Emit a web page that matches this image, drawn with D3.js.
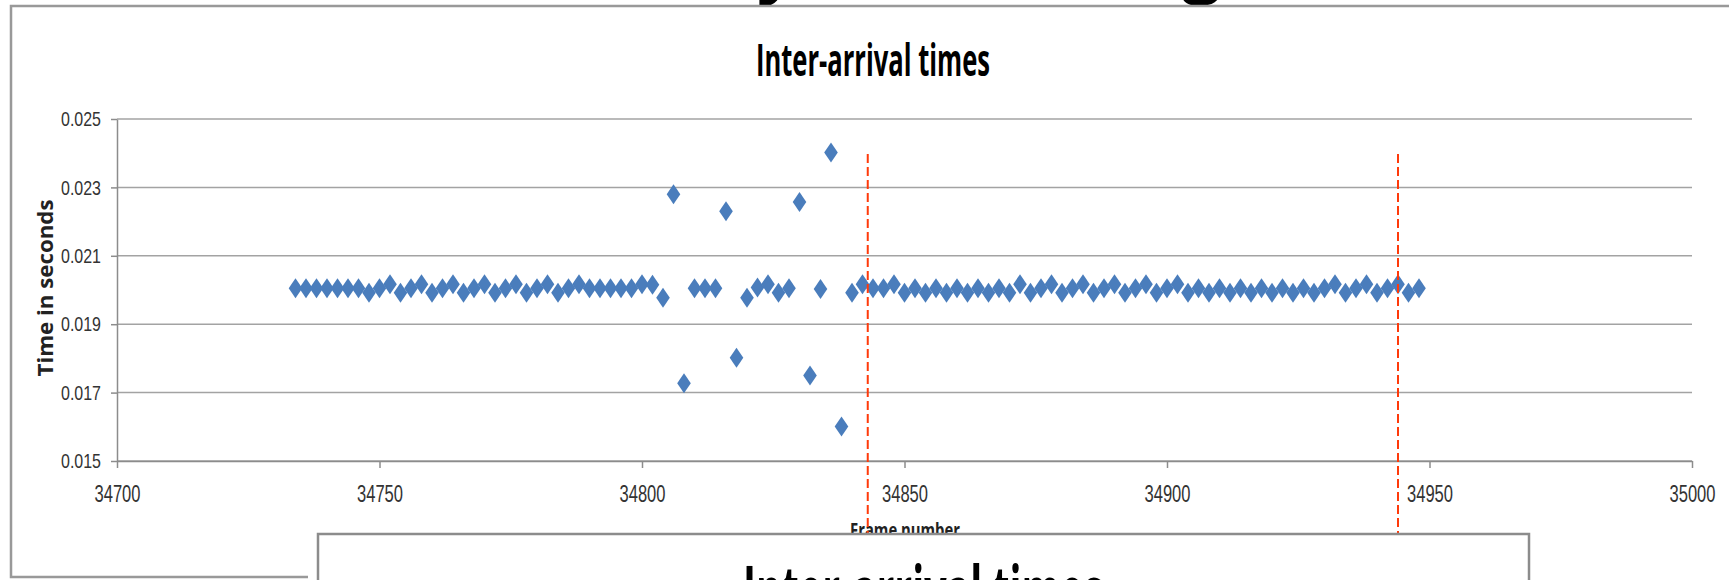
<!DOCTYPE html>
<html lang="en">
<head>
  <meta charset="UTF-8">
  <title>Inter-arrival times</title>
  <script src="https://d3js.org/d3.v7.min.js"></script>
  <style>
    body { margin: 0; background: #fff; overflow: hidden; }
    svg { display: block; font-family: "Open Sans", "Liberation Sans", sans-serif; }
    .grid line { stroke: #a3a3a3; stroke-width: 1.5px; }
    .axis path, .axis line { stroke: #8c8c8c; stroke-width: 1.5px; }
    .axis text { fill: #333; }
    .marker { fill: #4a7dbc; }
    .cut-line { stroke: #ff3a0a; stroke-width: 2px; stroke-dasharray: 9 4; fill: none; }
    .frame { stroke: #999; stroke-width: 2.5px; fill: none; }
  </style>
</head>
<body>
<div id="chart"></div>
<script>
  // frame numbers (every other frame) and their inter-arrival time in seconds
  const frames = [
    34734, 34736, 34738, 34740, 34742, 34744, 34746, 34748, 34750, 34752,
    34754, 34756, 34758, 34760, 34762, 34764, 34766, 34768, 34770, 34772,
    34774, 34776, 34778, 34780, 34782, 34784, 34786, 34788, 34790, 34792,
    34794, 34796, 34798, 34800, 34802, 34804, 34806, 34808, 34810, 34812,
    34814, 34816, 34818, 34820, 34822, 34824, 34826, 34828, 34830, 34832,
    34834, 34836, 34838, 34840, 34842, 34844, 34846, 34848, 34850, 34852,
    34854, 34856, 34858, 34860, 34862, 34864, 34866, 34868, 34870, 34872,
    34874, 34876, 34878, 34880, 34882, 34884, 34886, 34888, 34890, 34892,
    34894, 34896, 34898, 34900, 34902, 34904, 34906, 34908, 34910, 34912,
    34914, 34916, 34918, 34920, 34922, 34924, 34926, 34928, 34930, 34932,
    34934, 34936, 34938, 34940, 34942, 34944, 34946, 34948
  ];
  const interArrival = [
    0.02005, 0.02005, 0.02005, 0.02005, 0.02005, 0.02005, 0.02005, 0.01992, 0.02005, 0.02017,
    0.01992, 0.02005, 0.02017, 0.01992, 0.02005, 0.02017, 0.01992, 0.02005, 0.02017, 0.01992,
    0.02005, 0.02017, 0.01992, 0.02005, 0.02017, 0.01992, 0.02005, 0.02017, 0.02005, 0.02005,
    0.02005, 0.02005, 0.02005, 0.02017, 0.02015, 0.01977, 0.0228, 0.01727, 0.02005, 0.02005,
    0.02005, 0.0223, 0.01802, 0.01977, 0.02007, 0.02017, 0.01992, 0.02005, 0.02257, 0.0175,
    0.02003, 0.02402, 0.01601, 0.01992, 0.02017, 0.02005, 0.02005, 0.02017, 0.01992, 0.02005,
    0.01992, 0.02005, 0.01992, 0.02005, 0.01992, 0.02005, 0.01992, 0.02005, 0.01992, 0.02017,
    0.01992, 0.02005, 0.02017, 0.01992, 0.02005, 0.02017, 0.01992, 0.02005, 0.02017, 0.01992,
    0.02005, 0.02017, 0.01992, 0.02005, 0.02017, 0.01992, 0.02005, 0.01992, 0.02005, 0.01992,
    0.02005, 0.01992, 0.02005, 0.01992, 0.02005, 0.01992, 0.02005, 0.01992, 0.02005, 0.02017,
    0.01992, 0.02005, 0.02017, 0.01992, 0.02005, 0.02017, 0.01992, 0.02005
  ];
  const xTicks = [34700, 34750, 34800, 34850, 34900, 34950, 35000];
  const yTicks = [0.015, 0.017, 0.019, 0.021, 0.023, 0.025];
  const markedFrames = [34843, 34944];   // red dashed markers
  const markTop = 0.02398;

  const chartTitle = "Inter-arrival times";
  const xTitle = "Frame number";
  const yTitle = "Time in seconds";

  const W = 1729, H = 580;
  const plot = { left: 117, right: 1692, top: 119, bottom: 461 };
  const boxTop = 534;

  const svg = d3.select("#chart").append("svg")
    .attr("width", W)
    .attr("height", H);

  const x = d3.scaleLinear().domain([34700, 35000]).range([plot.left, plot.right]);
  const y = d3.scaleLinear().domain([0.015, 0.025]).range([plot.bottom, plot.top]);

  // clipped slide heading glyphs peeking in at the top
  svg.append("text").attr("x", 757).attr("y", -11)
    .attr("font-size", 70).attr("font-weight", "bold").text("y");
  svg.append("text").attr("x", 1182).attr("y", -11)
    .attr("font-size", 70).attr("font-weight", "bold").text("g");

  // chart frame (left, top, bottom)
  svg.append("path").attr("class", "frame")
    .attr("d", `M${W + 5},6 H11 V577 H308`);

  // chart title
  svg.append("text")
    .attr("x", 873).attr("y", 76)
    .attr("text-anchor", "middle")
    .attr("font-size", 44).attr("font-weight", "bold")
    .attr("textLength", 234).attr("lengthAdjust", "spacingAndGlyphs")
    .text(chartTitle);

  // gridlines
  svg.append("g").attr("class", "grid")
    .selectAll("line")
    .data(yTicks)
    .join("line")
    .attr("x1", plot.left).attr("x2", plot.right)
    .attr("y1", d => y(d)).attr("y2", d => y(d));

  // axes
  const yAxis = svg.append("g").attr("class", "axis")
    .attr("transform", `translate(${plot.left},0)`)
    .call(d3.axisLeft(y).tickValues(yTicks).tickFormat(d3.format(".3f"))
      .tickSize(6).tickSizeOuter(0).tickPadding(10));
  yAxis.selectAll("text")
    .attr("font-size", 21)
    .attr("textLength", 40).attr("lengthAdjust", "spacingAndGlyphs");

  const xAxis = svg.append("g").attr("class", "axis")
    .attr("transform", `translate(0,${plot.bottom})`)
    .call(d3.axisBottom(x).tickValues(xTicks).tickFormat(d3.format("d"))
      .tickSize(7).tickSizeOuter(0).tickPadding(17));
  xAxis.selectAll("text")
    .attr("font-size", 24)
    .attr("textLength", 46).attr("lengthAdjust", "spacingAndGlyphs");
  svg.selectAll(".axis .domain").attr("stroke", "#8c8c8c");

  // y axis title
  svg.append("text")
    .attr("transform", `translate(53,288) rotate(-90)`)
    .attr("text-anchor", "middle")
    .attr("font-size", 21).attr("font-weight", "bold").attr("fill", "#222")
    .attr("textLength", 177).attr("lengthAdjust", "spacingAndGlyphs")
    .text(yTitle);

  // x axis title (partly hidden by the overlapping box)
  svg.append("text")
    .attr("x", 905).attr("y", 537)
    .attr("text-anchor", "middle")
    .attr("font-size", 20).attr("font-weight", "bold").attr("fill", "#222")
    .attr("textLength", 110).attr("lengthAdjust", "spacingAndGlyphs")
    .text(xTitle);

  // diamond markers
  const pts = frames.map((f, i) => ({ frame: f, value: interArrival[i] }));
  svg.append("g")
    .selectAll("path")
    .data(pts)
    .join("path")
    .attr("class", "marker")
    .attr("transform", d => `translate(${x(d.frame)},${y(d.value)})`)
    .attr("d", "M0,-10 L6.8,0 L0,10 L-6.8,0 Z");

  // red dashed markers
  svg.append("g")
    .selectAll("line")
    .data(markedFrames)
    .join("line")
    .attr("class", "cut-line")
    .attr("x1", d => x(d)).attr("x2", d => x(d))
    .attr("y1", y(markTop)).attr("y2", boxTop);

  // overlapping second chart box at the bottom
  svg.append("rect")
    .attr("x", 318).attr("y", boxTop)
    .attr("width", 1211).attr("height", 80)
    .attr("fill", "#fff")
    .attr("stroke", "#8c8c8c").attr("stroke-width", 2.5);
  svg.append("text")
    .attr("x", 923).attr("y", 616)
    .attr("text-anchor", "middle")
    .attr("font-size", 70).attr("font-weight", "bold")
    .attr("textLength", 360).attr("lengthAdjust", "spacingAndGlyphs")
    .text(chartTitle);
</script>
</body>
</html>
